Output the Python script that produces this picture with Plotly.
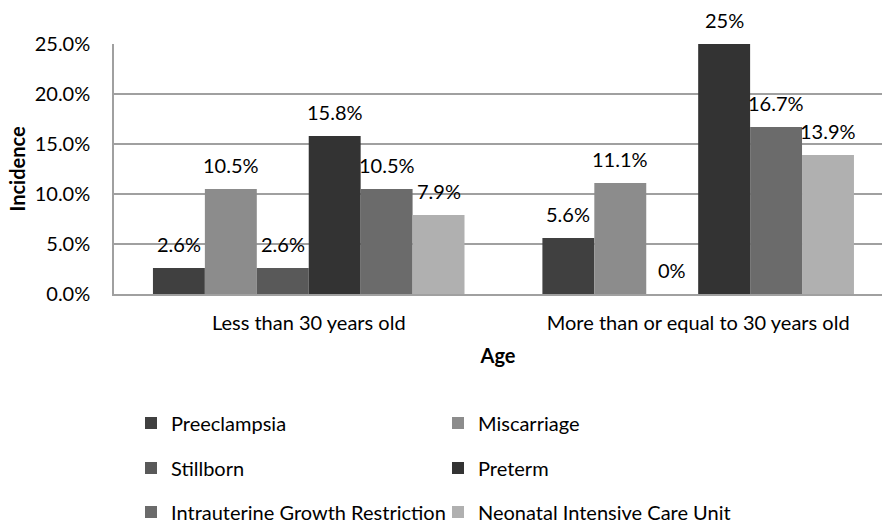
import plotly.graph_objects as go

categories = ["Less than 30 years old", "More than or equal to 30 years old"]
series_names = ["Preeclampsia", "Miscarriage", "Stillborn", "Preterm",
                "Intrauterine Growth Restriction", "Neonatal Intensive Care Unit"]
preeclampsia = [2.6, 5.6]
miscarriage = [10.5, 11.1]
stillborn = [2.6, 0.0]
preterm = [15.8, 25.0]
iugr = [10.5, 16.7]
nicu = [7.9, 13.9]
label_text = {
    "Preeclampsia": ["2.6%", "5.6%"],
    "Miscarriage": ["10.5%", "11.1%"],
    "Stillborn": ["2.6%", "0%"],
    "Preterm": ["15.8%", "25%"],
    "Intrauterine Growth Restriction": ["10.5%", "16.7%"],
    "Neonatal Intensive Care Unit": ["7.9%", "13.9%"],
}
values = [preeclampsia, miscarriage, stillborn, preterm, iugr, nicu]
colors = ["#404040", "#8c8c8c", "#595959", "#333333", "#6b6b6b", "#b0b0b0"]
legend_ids = ["legend", "legend", "legend2", "legend2", "legend3", "legend3"]
yticks = [0, 5, 10, 15, 20, 25]
ytick_text = ["0.0%", "5.0%", "10.0%", "15.0%", "20.0%", "25.0%"]

FONT = "Lato, Open Sans, sans-serif"
FS = 20
BARGAP = 0.2

fig = go.Figure()
for name, vals, col, lg in zip(series_names, values, colors, legend_ids):
    fig.add_trace(go.Bar(
        name=name, x=[0, 1], y=vals, marker=dict(color=col, line=dict(width=0)),
        legend=lg, hoverinfo="x+y",
    ))

# data labels centred over each grouped bar (offset derived from the group layout)
n = len(series_names)
slot = (1 - BARGAP) / n
annotations = []
for i, name in enumerate(series_names):
    off = -(1 - BARGAP) / 2 + (i + 0.5) * slot
    for xi, (v, t) in enumerate(zip(values[i], label_text[name])):
        annotations.append(dict(
            x=xi + off, y=v, xref="x", yref="y", text=t, showarrow=False,
            xanchor="center", yanchor="middle", yshift=24,
            font=dict(size=FS, color="#000000", family=FONT),
        ))

fig.update_layout(
    width=882, height=524,
    margin=dict(l=114, r=0, t=44, b=230),
    paper_bgcolor="white", plot_bgcolor="white",
    barmode="group", bargap=BARGAP, bargroupgap=0,
    font=dict(family=FONT, size=FS, color="#000000"),
    annotations=annotations,
    xaxis=dict(
        range=[-0.5, 1.472], tickmode="array", tickvals=[0, 1], ticktext=categories,
        showgrid=False, showline=True, linecolor="#a0a0a0", linewidth=1.5,
        ticks="", tickfont=dict(size=FS), zeroline=False, automargin=False,
        ticklabelstandoff=10,
        title=dict(text="<b>Age</b>", font=dict(size=FS), standoff=16),
    ),
    yaxis=dict(
        range=[0, 25], tickmode="array", tickvals=yticks, ticktext=ytick_text,
        showgrid=True, gridcolor="#a0a0a0", gridwidth=1.5,
        showline=True, linecolor="#a0a0a0", linewidth=1.5, zeroline=False,
        ticks="", tickfont=dict(size=FS), ticklabelstandoff=18, automargin=False,
        title=dict(text="<b>Incidence</b>", font=dict(size=FS), standoff=4),
    ),
)

legend_common = dict(orientation="h", xref="container", yref="container",
                     xanchor="left", yanchor="middle", entrywidth=262, entrywidthmode="pixels",
                     itemwidth=30, font=dict(size=FS, family=FONT), bgcolor="rgba(0,0,0,0)",
                     traceorder="normal")
fig.update_layout(
    legend=dict(x=131 / 882, y=1 - 423 / 524, **legend_common),
    legend2=dict(x=131 / 882, y=1 - 468 / 524, **legend_common),
    legend3=dict(x=131 / 882, y=1 - 512 / 524, **legend_common),
)

fig.write_html("out.html", config={"displayModeBar": False},
               post_script="document.body.style.margin='0';document.body.style.overflow='hidden';")
